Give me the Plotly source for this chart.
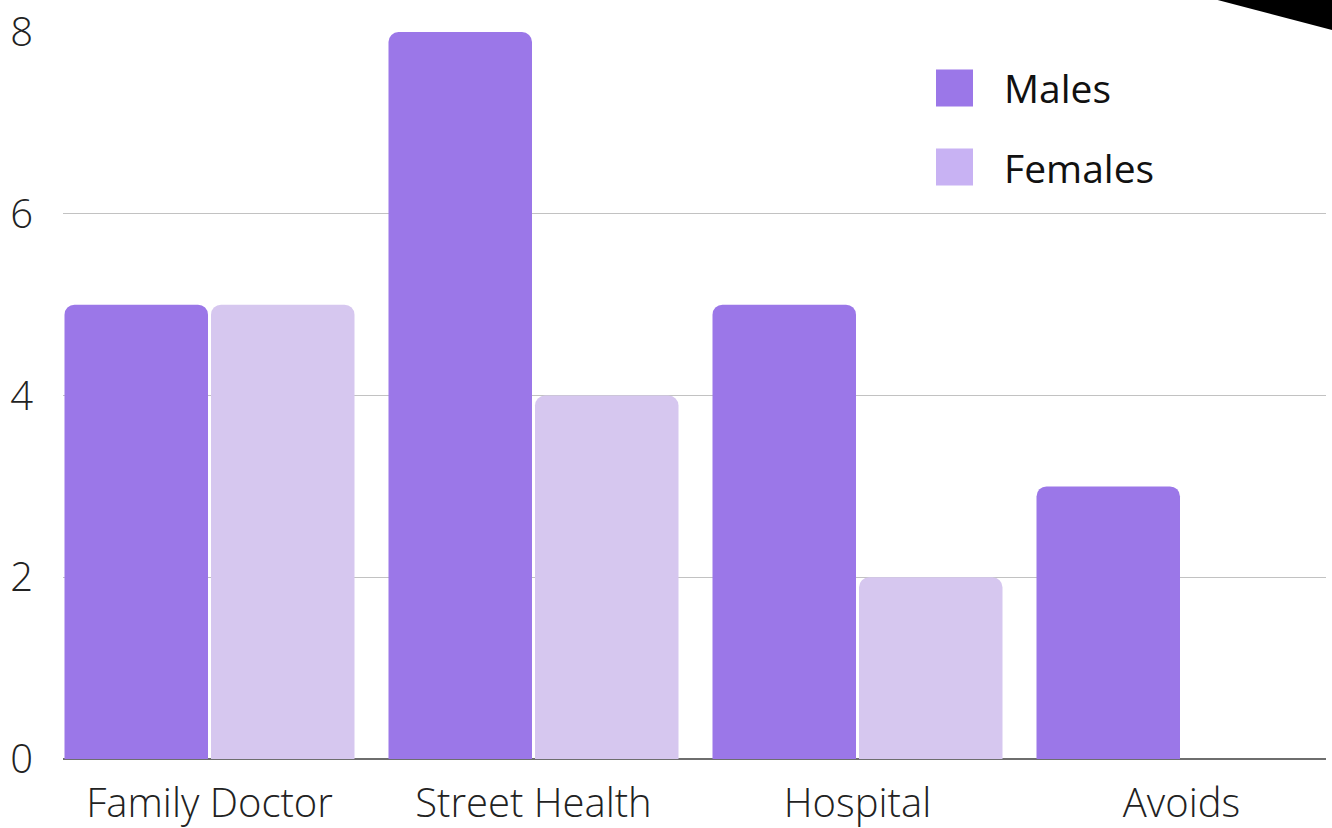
import plotly.graph_objects as go

categories = ["Family Doctor", "Street Health", "Hospital", "Avoids"]
series_names = ["Males", "Females"]
males = [5, 8, 5, 3]
females = [5, 4, 2, 0]
y_ticks = [0, 2, 4, 6, 8]

bar_colors = ["#9b77e8", "#d6c7ef"]
legend_colors = ["#9b77e8", "#c8b2f3"]

W, H = 1332, 828
ml, mr, mt, mb = 63, 6, 32, 69
pw = W - ml - mr
ph = H - mt - mb

fig = go.Figure()
for name, vals, col in zip(series_names, [males, females], bar_colors):
    fig.add_trace(go.Bar(
        x=categories, y=vals, name=name,
        marker=dict(color=col, line=dict(width=0)),
        showlegend=False, hoverinfo="x+y+name",
    ))

# category pitch 324 px, first category centre at 209.5 px
pitch = 324.0
r0 = -(209.5 - ml) / pitch
r1 = r0 + pw / pitch

tick_font = dict(family="Open Sans", size=40, color="#222222", weight=300)

fig.update_layout(
    width=W, height=H, autosize=False,
    margin=dict(l=ml, r=mr, t=mt, b=mb, pad=0, autoexpand=False),
    paper_bgcolor="white", plot_bgcolor="white",
    barmode="group", bargap=0.0957, bargroupgap=0.0205,
    barcornerradius=10,
    font=dict(family="Open Sans", size=38, color="#111111"),
    xaxis=dict(
        type="category", range=[r0, r1], showgrid=False, zeroline=False,
        showline=False, ticks="", tickfont=tick_font, ticklabelstandoff=17,
        automargin=False,
    ),
    yaxis=dict(
        range=[0, 8], tickvals=y_ticks, showgrid=True, gridcolor="#c2c2c2",
        gridwidth=1, zeroline=True, zerolinecolor="#6e6e6e", zerolinewidth=1.5,
        showline=False, ticks="", tickfont=tick_font, ticklabelstandoff=29,
        automargin=False,
    ),
)

# legend drawn as swatches + labels
def px_x(p):
    return (p - ml) / pw

def px_y(p):
    return (H - mb - p) / ph

legend_rows = [88, 167]
for name, col, yc in zip(series_names, legend_colors, legend_rows):
    fig.add_shape(type="rect", xref="paper", yref="paper",
                  x0=px_x(936), x1=px_x(973), y0=px_y(yc + 18.5), y1=px_y(yc - 18.5),
                  fillcolor=col, line=dict(width=0))
    fig.add_annotation(xref="paper", yref="paper", x=px_x(1002), y=px_y(yc),
                       text=name, showarrow=False, xanchor="left", yanchor="middle",
                       font=dict(family="Open Sans", size=39, color="#111111"))

# decorative corner triangle
fig.add_shape(type="path", xref="paper", yref="paper",
              path=f"M {px_x(1210)} {px_y(-2)} L {px_x(1340)} {px_y(-2)} L {px_x(1340)} {px_y(32)} Z",
              fillcolor="black", line=dict(width=0), layer="above")

fig.write_html(
    "out.html",
    config={"displayModeBar": False},
    post_script="document.body.style.margin='0';document.body.style.overflow='hidden';",
)
